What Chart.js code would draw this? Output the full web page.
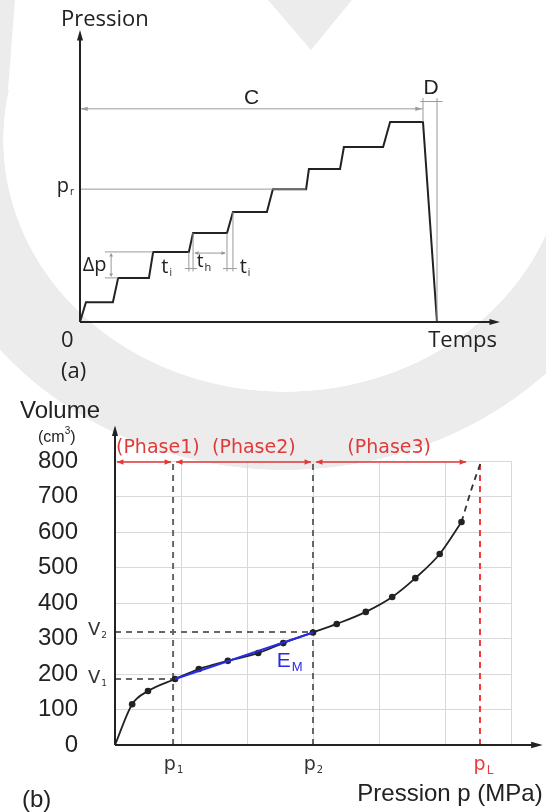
<!DOCTYPE html>
<html>
<head>
<meta charset="utf-8">
<script src="https://cdn.jsdelivr.net/npm/chart.js@4.4.1/dist/chart.umd.min.js"></script>
<style>
  html, body { margin: 0; padding: 0; }
  body { width: 546px; height: 812px; position: relative; overflow: hidden; background: #fff; }
  #anneau { position: absolute; left: 0; top: 0; width: 546px; height: 812px;
    background: radial-gradient(ellipse 282px 252px at 285px 140px, rgba(236,236,237,0) 99.8%, #ececed 100%, #ececed 130.8%, rgba(236,236,237,0) 131%);
    clip-path: polygon(0 0, 15px 0, 8px 90px, 546px 200px, 546px 812px, 0 812px); }
  .tache { position: absolute; left: 0; top: 0; width: 546px; height: 812px; background: #ececed; }
  #tacheV { clip-path: polygon(268px 0, 352px 0, 311px 50px); }
  #boiteA { position: absolute; left: 0; top: 0; }
  #boiteB { position: absolute; left: 0; top: 395px; }
</style>
</head>
<body>
<div id="anneau"></div>
<div class="tache" id="tacheV"></div>
<div id="boiteA"><canvas id="graphA" width="546" height="395"></canvas></div>
<div id="boiteB"><canvas id="graphB" width="546" height="417"></canvas></div>
<script>
// (a) palier de pression en fonction du temps (unites arbitraires)
const tempsA = [0, 1.7, 9.4, 10.9, 19.7, 20.9, 31.1, 32.3, 42.0, 43.7, 53.4, 55.1, 64.6, 65.4, 74.3, 75.4, 86.6, 88.6, 98.0, 102.0];
const pressionA = [0, 6.8, 6.8, 15.1, 15.1, 24.0, 24.0, 30.5, 30.5, 37.7, 37.7, 45.5, 45.5, 52.4, 52.4, 59.9, 59.9, 68.5, 68.5, 0];
const niveauPr = 45.5;
const niveauC = 73;
const niveauD = 75.5;

// (b) courbe pressiometrique
const pressionB = [0, 0.26, 0.50, 0.91, 1.27, 1.71, 2.17, 2.55, 3.00, 3.36, 3.80, 4.20, 4.55, 4.92, 5.25];
const volumeB = [0, 115, 152, 186, 214, 237, 259, 287, 317, 341, 375, 417, 470, 538, 628];
const pressionFin = [5.25, 5.40, 5.55];
const volumeFin = [628, 720, 800];
const p1 = 0.88, p2 = 3.0, pL = 5.53;
const V1 = 186, V2 = 318;
const phases = ['(Phase1)', '(Phase2)', '(Phase3)'];

Chart.defaults.animation = false;
Chart.defaults.devicePixelRatio = 1;

function fleche(ctx, x1, y1, x2, y2, taille, demi) {
  const a = Math.atan2(y2 - y1, x2 - x1);
  ctx.beginPath();
  ctx.moveTo(x2, y2);
  ctx.lineTo(x2 - taille * Math.cos(a - demi), y2 - taille * Math.sin(a - demi));
  ctx.lineTo(x2 - taille * Math.cos(a + demi), y2 - taille * Math.sin(a + demi));
  ctx.closePath();
  ctx.fill();
}

function ligne(ctx, x1, y1, x2, y2) {
  ctx.beginPath();
  ctx.moveTo(x1, y1);
  ctx.lineTo(x2, y2);
  ctx.stroke();
}

// texte avec indice, y = milieu du texte principal
function texteIndice(ctx, base, indice, x, y, taille, police, couleur, align, tailleInd) {
  const ti = tailleInd || Math.round(taille * 0.55);
  ctx.font = taille + 'px ' + police;
  const wb = ctx.measureText(base).width;
  ctx.font = ti + 'px ' + police;
  const wi = ctx.measureText(indice).width;
  let x0 = x;
  if (align === 'center') x0 = x - (wb + wi) / 2;
  if (align === 'right') x0 = x - wb - wi;
  ctx.fillStyle = couleur;
  ctx.textAlign = 'left';
  ctx.textBaseline = 'middle';
  ctx.font = taille + 'px ' + police;
  ctx.fillText(base, x0, y);
  ctx.font = ti + 'px ' + police;
  ctx.fillText(indice, x0 + wb + 1, y + taille * 0.3);
}

const decorA = {
  id: 'decorA',
  afterDraw(chart) {
    const ctx = chart.ctx;
    const X = v => chart.scales.x.getPixelForValue(v);
    const Y = v => chart.scales.y.getPixelForValue(v);
    ctx.save();

    // lignes de cote grises
    ctx.strokeStyle = '#9a9a9a';
    ctx.fillStyle = '#9a9a9a';
    ctx.lineWidth = 1;
    ligne(ctx, X(0), Y(niveauPr), X(tempsA[12]), Y(niveauPr));
    ligne(ctx, X(0), Y(niveauC), X(tempsA[18]), Y(niveauC));
    fleche(ctx, X(4), Y(niveauC), X(0) + 1, Y(niveauC), 7, 0.3);
    fleche(ctx, X(90), Y(niveauC), X(tempsA[18]) - 1, Y(niveauC), 7, 0.3);
    ligne(ctx, X(tempsA[18]), Y(niveauD + 1.2), X(tempsA[18]), Y(pressionA[18]));
    ligne(ctx, X(tempsA[19]), Y(niveauD + 1.2), X(tempsA[19]), Y(0));
    ligne(ctx, X(tempsA[18] - 0.8), Y(niveauD), X(tempsA[19] + 1.6), Y(niveauD));

    // delta p
    ligne(ctx, X(7.1), Y(pressionA[5]), X(tempsA[5]), Y(pressionA[5]));
    ligne(ctx, X(7.1), Y(pressionA[3]), X(tempsA[3]), Y(pressionA[3]));
    ligne(ctx, X(8.9), Y(pressionA[5]) + 2, X(8.9), Y(pressionA[3]) - 2);
    fleche(ctx, X(8.9), Y(19), X(8.9), Y(pressionA[5]) + 1, 4, 0.5);
    fleche(ctx, X(8.9), Y(19), X(8.9), Y(pressionA[3]) - 1, 4, 0.5);

    // t_i, t_h
    const yBas = Y(17.3);
    ligne(ctx, X(tempsA[6]), Y(pressionA[6]), X(tempsA[6]), yBas);
    ligne(ctx, X(tempsA[7]), Y(pressionA[7]), X(tempsA[7]), yBas);
    ligne(ctx, X(tempsA[8]), Y(pressionA[8]), X(tempsA[8]), yBas);
    ligne(ctx, X(tempsA[9]), Y(pressionA[9]), X(tempsA[9]), yBas);
    const yCroix = Y(18.3);
    ligne(ctx, X(tempsA[6]) - 4, yCroix, X(tempsA[7]) + 4, yCroix);
    ligne(ctx, X(tempsA[8]) - 4, yCroix, X(tempsA[9]) + 4, yCroix);
    ligne(ctx, X(tempsA[7]) + 2, Y(23.6), X(tempsA[8]) - 2, Y(23.6));
    fleche(ctx, X(36), Y(23.6), X(tempsA[7]) + 1, Y(23.6), 5, 0.4);
    fleche(ctx, X(38), Y(23.6), X(tempsA[8]) - 1, Y(23.6), 5, 0.4);

    // axes
    ctx.strokeStyle = '#222';
    ctx.fillStyle = '#222';
    ctx.lineWidth = 2;
    ligne(ctx, X(0), Y(0), X(0), Y(100) + 6);
    fleche(ctx, X(0), Y(0), X(0), Y(100), 11, 0.28);
    ligne(ctx, X(0), Y(0), X(120) - 6, Y(0));
    fleche(ctx, X(0), Y(0), X(120), Y(0), 11, 0.28);

    // textes
    const os = '"Open Sans", sans-serif';
    ctx.fillStyle = '#222';
    ctx.textBaseline = 'middle';
    ctx.font = '22px ' + os;
    ctx.textAlign = 'left';
    ctx.fillText('Pression', X(0) - 19, Y(100) - 10);
    ctx.fillText('0', X(0) - 19, Y(0) + 19);
    ctx.fillText('(a)', X(0) - 19, Y(0) + 50);
    ctx.textAlign = 'right';
    ctx.fillText('Temps', X(120) - 3, Y(0) + 19);
    ctx.textAlign = 'center';
    ctx.font = '21px "Liberation Sans", sans-serif';
    ctx.fillText('C', X(49), Y(niveauC) - 11);
    ctx.fillText('D', X((tempsA[18] + tempsA[19]) / 2 + 0.3), Y(niveauD) - 13);
    texteIndice(ctx, 'p', 'r', X(0) - 7, Y(niveauPr) - 3, 20, os, '#222', 'right', 10);
    ctx.font = '20px ' + os;
    ctx.textAlign = 'right';
    ctx.fillStyle = '#222';
    ctx.fillText('\u0394p', X(7.6), Y((pressionA[3] + pressionA[5]) / 2));
    texteIndice(ctx, 't', 'i', X(24.6), Y(18.8), 20, os, '#222', 'center', 10);
    texteIndice(ctx, 't', 'h', X(35.3), Y(20.6), 19, os, '#222', 'center', 11);
    texteIndice(ctx, 't', 'i', X(47.0), Y(18.8), 20, os, '#222', 'center', 10);
    ctx.restore();
  }
};

new Chart(document.getElementById('graphA'), {
  type: 'line',
  data: {
    datasets: [{
      data: tempsA.map((t, i) => ({ x: t, y: pressionA[i] })),
      borderColor: '#222',
      borderWidth: 2,
      pointRadius: 0,
      tension: 0,
      clip: false
    }]
  },
  options: {
    responsive: false,
    layout: { padding: { left: 80, right: 46, top: 30, bottom: 73 } },
    plugins: { legend: { display: false }, tooltip: { enabled: false } },
    scales: {
      x: { type: 'linear', min: 0, max: 120, display: false },
      y: { type: 'linear', min: 0, max: 100, display: false }
    }
  },
  plugins: [decorA]
});

const lignesB = {
  id: 'lignesB',
  beforeDatasetsDraw(chart) {
    const ctx = chart.ctx;
    const X = v => chart.scales.x.getPixelForValue(v);
    const Y = v => chart.scales.y.getPixelForValue(v);
    ctx.save();
    ctx.lineWidth = 2;
    ctx.setLineDash([6, 5]);
    ctx.strokeStyle = '#666';
    ligne(ctx, X(p1), Y(0), X(p1), Y(800));
    ligne(ctx, X(p2), Y(0), X(p2), Y(800));
    ligne(ctx, X(0), Y(V1), X(p1), Y(V1));
    ligne(ctx, X(0), Y(V2), X(p2), Y(V2));
    ctx.strokeStyle = '#f03a3a';
    ligne(ctx, X(pL), Y(0), X(pL), Y(800));
    ctx.restore();
  },
  afterDraw(chart) {
    const ctx = chart.ctx;
    const X = v => chart.scales.x.getPixelForValue(v);
    const Y = v => chart.scales.y.getPixelForValue(v);
    ctx.save();

    // axes
    ctx.strokeStyle = '#222';
    ctx.fillStyle = '#222';
    ctx.lineWidth = 2;
    ligne(ctx, X(0), Y(0), X(0), Y(900) + 6);
    fleche(ctx, X(0), Y(0), X(0), Y(900), 11, 0.28);
    ligne(ctx, X(0), Y(0), X(6.48) - 6, Y(0));
    fleche(ctx, X(0), Y(0), X(6.48), Y(0), 12, 0.28);

    // phases
    const rouge = '#e03a3a';
    ctx.strokeStyle = rouge;
    ctx.fillStyle = rouge;
    ctx.lineWidth = 1.5;
    const yPh = Y(800) + 1;
    const bornes = [[X(0) + 2, X(p1) - 2], [X(p1) + 3, X(p2) - 2], [X(p2) + 3, X(5.32)]];
    bornes.forEach(b => {
      ligne(ctx, b[0], yPh, b[1], yPh);
      fleche(ctx, b[1], yPh, b[0], yPh, 7, 0.4);
      fleche(ctx, b[0], yPh, b[1], yPh, 7, 0.4);
    });
    ctx.font = '19px "DejaVu Sans", sans-serif';
    ctx.textAlign = 'left';
    ctx.textBaseline = 'middle';
    ctx.fillText(phases[0], X(0) + 1, Y(800) - 13);
    ctx.fillText(phases[1], X(1.47), Y(800) - 13);
    ctx.fillText(phases[2], X(3.52), Y(800) - 13);

    // textes
    const ar = '"Liberation Sans", Arial, sans-serif';
    const dv = '"DejaVu Sans", Verdana, sans-serif';
    ctx.fillStyle = '#222';
    ctx.font = '24px ' + ar;
    ctx.textAlign = 'left';
    ctx.fillText('Volume', 20, Y(900) - 14);
    ctx.fillText('(b)', 22, Y(0) + 55);
    ctx.textAlign = 'right';
    ctx.fillText('Pression p (MPa)', X(6.48), Y(0) + 49);
    // (cm3)
    ctx.font = '16px ' + ar;
    ctx.textAlign = 'left';
    let xc = 38;
    ctx.fillText('(cm', xc, Y(900) + 12);
    xc += ctx.measureText('(cm').width;
    ctx.font = '10px ' + ar;
    ctx.fillText('3', xc, Y(900) + 6);
    xc += ctx.measureText('3').width;
    ctx.font = '16px ' + ar;
    ctx.fillText(')', xc, Y(900) + 12);

    texteIndice(ctx, 'V', '2', X(0) - 27, Y(V2) - 2, 18, dv, '#333', 'left', 9);
    texteIndice(ctx, 'V', '1', X(0) - 27, Y(V1) - 1, 18, dv, '#333', 'left', 9);
    texteIndice(ctx, 'p', '1', X(p1), Y(0) + 20, 19, dv, '#333', 'center', 10);
    texteIndice(ctx, 'p', '2', X(p2), Y(0) + 20, 19, dv, '#333', 'center', 10);
    texteIndice(ctx, 'p', 'L', X(pL) + 3, Y(0) + 20, 19, dv, '#f03a3a', 'center', 12);
    texteIndice(ctx, 'E', 'M', X(2.45), Y(237), 21, ar, '#2a2ae6', 'left', 13);
    ctx.restore();
  }
};

new Chart(document.getElementById('graphB'), {
  type: 'line',
  data: {
    datasets: [
      {
        data: [{ x: pressionB[3], y: volumeB[3] }, { x: pressionB[8], y: volumeB[8] }],
        borderColor: '#2a2ae6',
        borderWidth: 2,
        pointRadius: 0,
        tension: 0,
        clip: false,
        order: 0
      },
      {
        data: pressionB.map((p, i) => ({ x: p, y: volumeB[i] })),
        borderColor: '#222',
        borderWidth: 1.8,
        pointRadius: pressionB.map((p, i) => (i === 0 ? 0 : 3.3)),
        pointBackgroundColor: '#222',
        pointBorderColor: '#222',
        pointBorderWidth: 0,
        cubicInterpolationMode: 'monotone',
        clip: false,
        order: 1
      },
      {
        data: pressionFin.map((p, i) => ({ x: p, y: volumeFin[i] })),
        borderColor: '#333',
        borderWidth: 1.8,
        borderDash: [6, 5],
        pointRadius: 0,
        cubicInterpolationMode: 'monotone',
        clip: false,
        order: 2
      }
    ]
  },
  options: {
    responsive: false,
    layout: { padding: { left: 0, right: 35, top: 66, bottom: 0 } },
    plugins: { legend: { display: false }, tooltip: { enabled: false } },
    scales: {
      x: {
        type: 'linear', min: 0, max: 6,
        ticks: { display: false, stepSize: 1 },
        grid: { color: '#d9d9d9', lineWidth: 1, drawTicks: false },
        border: { display: false },
        afterFit: s => { s.height = 67; }
      },
      y: {
        type: 'linear', min: 0, max: 800,
        ticks: { stepSize: 100, padding: 37, color: '#222', font: { family: '"Liberation Sans", Arial, sans-serif', size: 24 } },
        grid: { color: '#d9d9d9', lineWidth: 1, drawTicks: false },
        border: { display: false },
        afterFit: s => { s.width = 115; }
      }
    }
  },
  plugins: [lignesB]
});
</script>
</body>
</html>
